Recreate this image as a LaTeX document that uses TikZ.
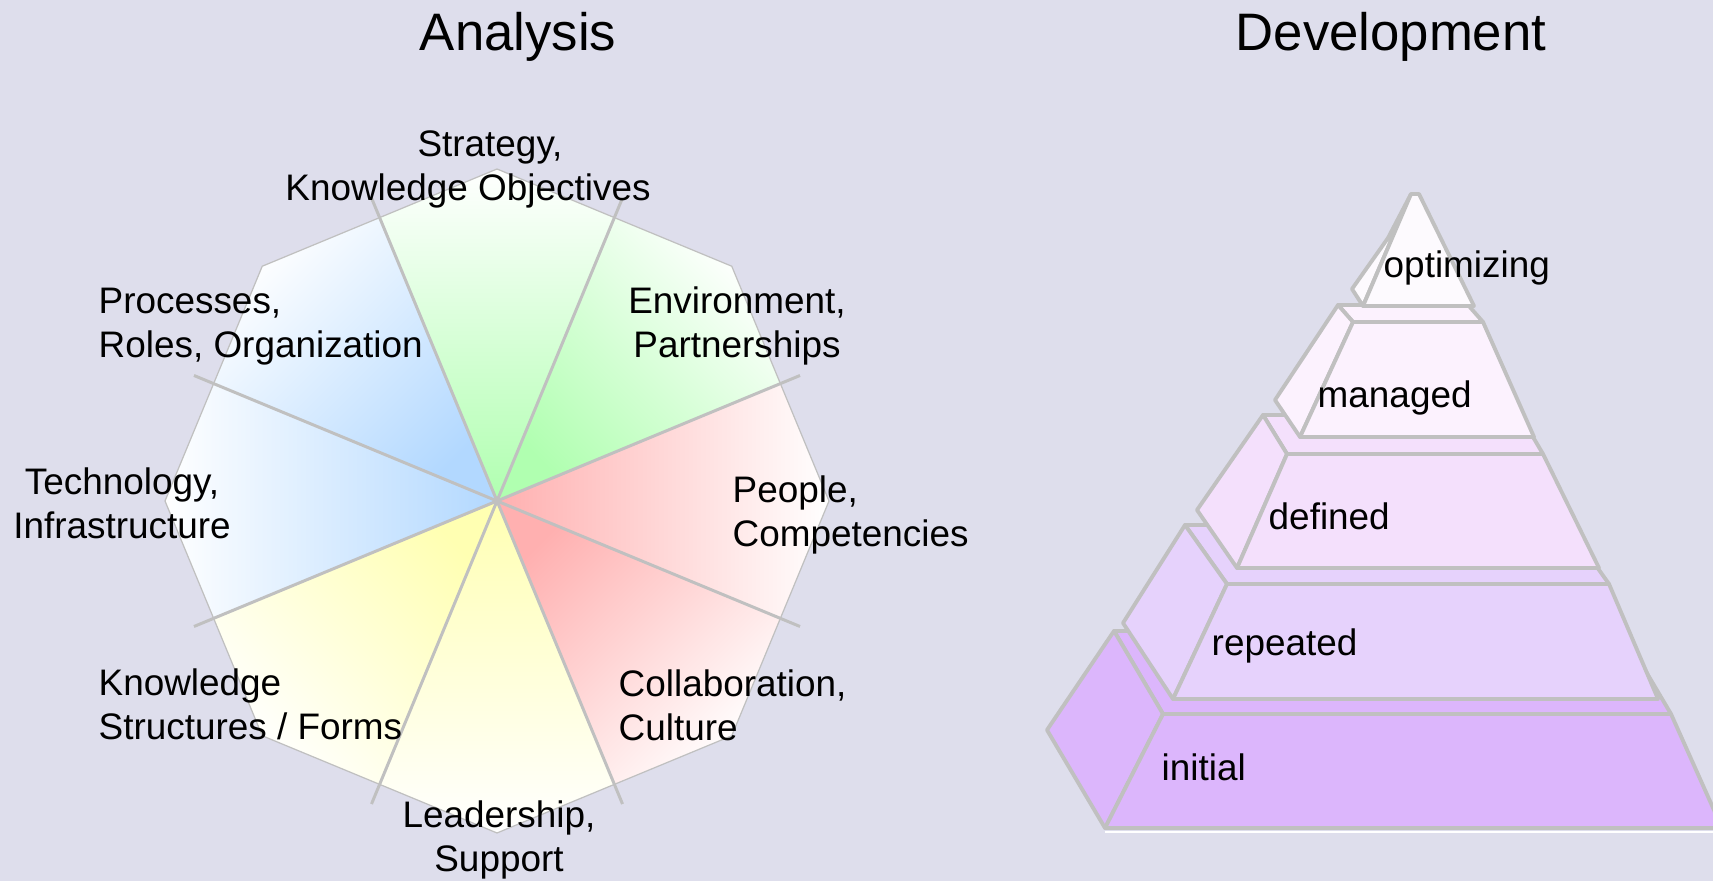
\documentclass[tikz,border=0pt]{standalone}
\usepackage{fontspec}
\setmainfont{Liberation Sans}
\usetikzlibrary{calc}
\definecolor{bgcolor}{RGB}{222,222,236}
\definecolor{rimgray}{RGB}{192,192,192}
\definecolor{sgreen}{RGB}{176,255,176}
\definecolor{sred}{RGB}{255,176,176}
\definecolor{sblue}{RGB}{178,216,255}
\definecolor{syellow}{RGB}{255,255,178}
\definecolor{lvA}{RGB}{220,182,252}
\definecolor{lvB}{RGB}{230,210,252}
\definecolor{lvC}{RGB}{244,224,252}
\definecolor{lvD}{RGB}{252,242,254}
\definecolor{lvE}{RGB}{253,250,254}

\begin{document}
\begin{tikzpicture}[
    x = 0.1mm, y = -0.1mm,
    lab/.style = {font = \fontsize{10.5}{12.7}\selectfont, inner sep = 0pt},
    ttl/.style = {font = \fontsize{15}{18}\selectfont, inner sep = 0pt, anchor = base},
    rim/.style = {draw = rimgray, line width = 0.35pt},
    spoke/.style = {draw = rimgray, line width = 0.85pt},
    lvl/.style = {draw = rimgray, line width = 1.1pt, line join = round, fill = #1}
    ]

\def\R{332}   % octagon radius
\def\A{306.7} % apothem
\def\L{328}   % spoke length

\useasboundingbox (0,0) rectangle (1713,881);
\fill [bgcolor] (0,0) rectangle (1713,881);
\clip (0,0) rectangle (1713,881);

\node (ana) at (518,51)  [ttl]{Analysis};
\node (dev) at (1391,51) [ttl]{Development};

\coordinate (O) at (497,501);

% octagon sectors
\begin{scope}[shift = {(O)}]
    \foreach \t/\c in {270/sgreen, 315/sgreen, 0/sred, 45/sred, 90/syellow, 135/syellow, 180/sblue, 225/sblue}{
        \pgfmathsetmacro{\s}{-\t-90}
        \shade [top color = white, bottom color = \c, shading angle = \s]
            (0,0) -- (\t-22.5:\A) -- (\t:\R) -- (\t+22.5:\A) -- cycle;
        }
    \draw [rim] (270:\R) \foreach \k in {1,...,7}{ -- (270+45*\k:\R)} -- cycle;
\end{scope}
\foreach \t in {22.5, 67.5, ..., 337.5}{
    \draw [spoke] (O) -- ++(\t:\L);
    }

% labels sit on the baseline of their last line
\node (strat)  at (468,201) [lab, anchor = base, align = center]   {\hspace*{4.4mm}Strategy,\\Knowledge Objectives};
\node (proc)   at (98,358)  [lab, anchor = base west, align = left] {Processes,\\Roles, Organization};
\node (env)    at (737,358) [lab, anchor = base, align = center]   {Environment,\\Partnerships};
\node (tech)   at (122,539) [lab, anchor = base, align = center]   {Technology,\\Infrastructure};
\node (people) at (732,547) [lab, anchor = base west, align = left] {People,\\Competencies};
\node (know)   at (98,740)  [lab, anchor = base west, align = left] {Knowledge\\Structures / Forms};
\node (collab) at (618,741) [lab, anchor = base west, align = left] {Collaboration,\\Culture};
\node (lead)   at (499,872) [lab, anchor = base, align = center]   {Leadership,\\Support};

% pyramid, bottom level first
\draw [white, line width = 0.6pt] (1105,832) -- (1713,832);
\draw [lvl = lvA] (1163,714) -- (1671,714) -- (1622,631) -- (1114,631) -- cycle;
\draw [lvl = lvA] (1105,828) -- (1047,730) -- (1114,631) -- (1163,714) -- cycle;
\draw [lvl = lvA] (1105,828) -- (1722,828) -- (1671,714) -- (1163,714) -- cycle;

\draw [lvl = lvB] (1227,584) -- (1609,584) -- (1567,525) -- (1185,525) -- cycle;
\draw [lvl = lvB] (1173,699) -- (1123,623) -- (1185,525) -- (1227,584) -- cycle;
\draw [lvl = lvB] (1173,699) -- (1658,699) -- (1609,584) -- (1227,584) -- cycle;

\draw [lvl = lvC] (1287,454) -- (1543,454) -- (1520,415) -- (1263,415) -- cycle;
\draw [lvl = lvC] (1237,568) -- (1197,510) -- (1263,415) -- (1287,454) -- cycle;
\draw [lvl = lvC] (1237,568) -- (1599,568) -- (1543,454) -- (1287,454) -- cycle;

\draw [lvl = lvD] (1353,322) -- (1483,322) -- (1468,305) -- (1338,305) -- cycle;
\draw [lvl = lvD] (1300,437) -- (1275,400) -- (1338,305) -- (1353,322) -- cycle;
\draw [lvl = lvD] (1300,437) -- (1534,437) -- (1483,322) -- (1353,322) -- cycle;

\draw [lvl = lvE] (1363,306) -- (1352,289) -- (1388,238) -- (1411,194) -- cycle;
\draw [lvl = lvE] (1363,306) -- (1474,306) -- (1419,194) -- (1411,194) -- cycle;

\node (opt) at (1383,278) [lab, anchor = base west]{optimizing};
\node (man) at (1317,408) [lab, anchor = base west]{managed};
\node (def) at (1268,530) [lab, anchor = base west]{defined};
\node (rep) at (1211,656) [lab, anchor = base west]{repeated};
\node (ini) at (1161,781) [lab, anchor = base west]{initial};
\end{tikzpicture}
\end{document}
